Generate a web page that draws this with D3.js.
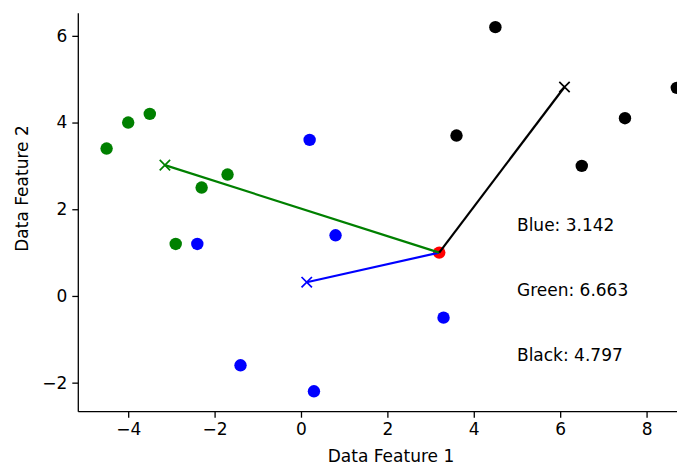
<!DOCTYPE html>
<html>
<head>
<meta charset="utf-8">
<script src="https://cdn.jsdelivr.net/npm/d3@7"></script>
<style>
  html, body { margin: 0; padding: 0; background: #fff; overflow: hidden; }
  svg { display: block; }
  text { font-family: "DejaVu Sans", sans-serif; }
</style>
</head>
<body>
<svg id="chart" width="677" height="463"></svg>
<script>
// ---- data ----
const greenX = [-4.5, -4.0, -3.5, -2.3, -1.7, -2.9];
const greenY = [3.4, 4.0, 4.2, 2.5, 2.8, 1.2];
const blueX = [0.2, -2.4, 0.8, -1.4, 0.3, 3.3];
const blueY = [3.6, 1.2, 1.4, -1.6, -2.2, -0.5];
const blackX = [4.5, 3.6, 7.5, 6.5, 8.7];
const blackY = [6.2, 3.7, 4.1, 3.0, 4.8];
const centroidNames = ["blue", "green", "black"];
const centroidX = [0.133, -3.15, 6.1];
const centroidY = [0.317, 3.017, 4.82];
const queryX = [3.2];
const queryY = [1.0];
const distLabels = ["Blue: 3.142", "Green: 6.663", "Black: 4.797"];
const distLabelX = [5, 5, 5];
const distLabelY = [1.5, 0, -1.5];
const xTicks = [-4, -2, 0, 2, 4, 6, 8];
const yTicks = [-2, 0, 2, 4, 6];
const xTitle = "Data Feature 1";
const yTitle = "Data Feature 2";

const colors = { blue: "#0000ff", green: "#008000", black: "#000000", red: "#ff0000" };

// ---- layout ----
const svg = d3.select("#chart");
const mLeft = 78.3, mRight = 701, mTop = 13.3, mBottom = 411.7;
const x = d3.scaleLinear().domain([-5.155, 9.26]).range([mLeft, mRight]);
const y = d3.scaleLinear().domain([-2.67, 6.52]).range([mBottom, mTop]);
const fontSize = 17;
const fmt = d3.format("d");

// ---- points ----
function scatter(xs, ys, color) {
  svg.append("g").selectAll("circle")
    .data(xs.map((v, i) => [v, ys[i]]))
    .join("circle")
    .attr("cx", d => x(d[0]))
    .attr("cy", d => y(d[1]))
    .attr("r", 6.2)
    .attr("fill", color);
}
scatter(greenX, greenY, colors.green);
scatter(blueX, blueY, colors.blue);
scatter(blackX, blackY, colors.black);
scatter(queryX, queryY, colors.red);

// ---- lines from centroids to query point ----
const gl = svg.append("g");
centroidNames.forEach((name, i) => {
  gl.append("line")
    .attr("x1", x(centroidX[i])).attr("y1", y(centroidY[i]))
    .attr("x2", x(queryX[0])).attr("y2", y(queryY[0]))
    .attr("stroke", colors[name]).attr("stroke-width", 2.2);
  const cx = x(centroidX[i]), cy = y(centroidY[i]), s = 5.2;
  gl.append("path")
    .attr("d", `M${cx - s},${cy - s}L${cx + s},${cy + s}M${cx - s},${cy + s}L${cx + s},${cy - s}`)
    .attr("stroke", colors[name]).attr("stroke-width", 1.7).attr("fill", "none");
});

// ---- distance labels ----
svg.append("g").selectAll("text")
  .data(distLabels)
  .join("text")
  .attr("x", (d, i) => x(distLabelX[i]))
  .attr("y", (d, i) => y(distLabelY[i]))
  .attr("font-size", fontSize)
  .attr("fill", "#000")
  .text(d => d);

// ---- axes ----
const xAxis = d3.axisBottom(x).tickValues(xTicks).tickFormat(fmt).tickSize(6).tickPadding(5);
const yAxis = d3.axisLeft(y).tickValues(yTicks).tickFormat(fmt).tickSize(6).tickPadding(5);

const gx = svg.append("g").attr("transform", `translate(0,${mBottom})`).call(xAxis);
const gy = svg.append("g").attr("transform", `translate(${mLeft},0)`).call(yAxis);
[gx, gy].forEach(g => {
  g.select(".domain").attr("stroke", "#000").attr("stroke-width", 1.3);
  g.selectAll(".tick line").attr("stroke", "#000").attr("stroke-width", 1.3);
  g.selectAll(".tick text").attr("font-size", fontSize).attr("fill", "#000")
    .attr("font-family", "DejaVu Sans, sans-serif");
});
gx.select(".domain").attr("d", `M${mLeft},0H${mRight}`);
gy.select(".domain").attr("d", `M0,${mTop}V${mBottom}`);

// ---- axis titles ----
svg.append("text")
  .attr("x", 391).attr("y", 461.5)
  .attr("text-anchor", "middle")
  .attr("font-size", fontSize).attr("fill", "#000")
  .text(xTitle);
svg.append("text")
  .attr("transform", "translate(28,188.5) rotate(-90)")
  .attr("text-anchor", "middle")
  .attr("font-size", fontSize).attr("fill", "#000")
  .text(yTitle);
</script>
</body>
</html>
